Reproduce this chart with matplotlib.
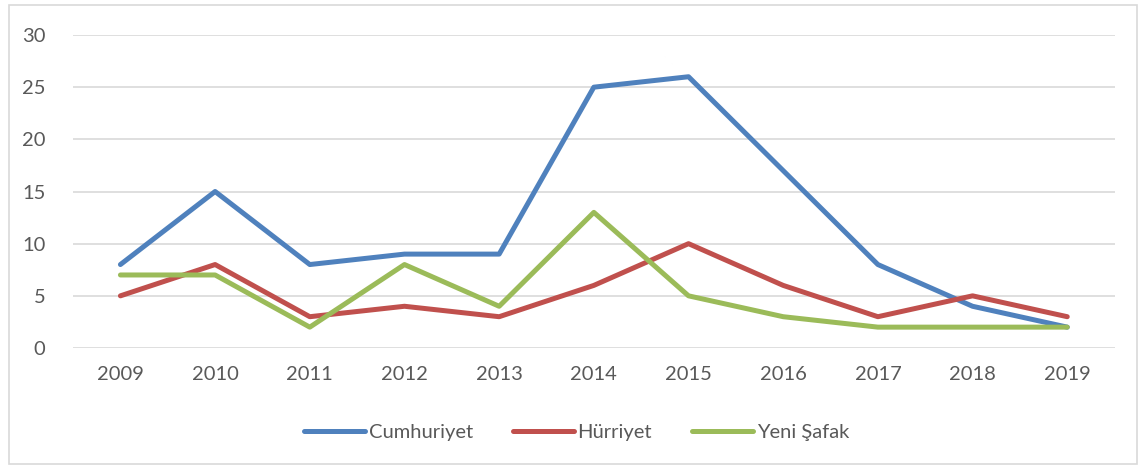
import matplotlib.pyplot as plt
from matplotlib.patches import Rectangle

years = ['2009', '2010', '2011', '2012', '2013', '2014', '2015', '2016', '2017', '2018', '2019']
cumhuriyet = [8, 15, 8, 9, 9, 25, 26, 17, 8, 4, 2]
hurriyet = [5, 8, 3, 4, 3, 6, 10, 6, 3, 5, 3]
yeni_safak = [7, 7, 2, 8, 4, 13, 5, 3, 2, 2, 2]

plt.rcParams['font.family'] = ['Lato', 'DejaVu Sans']

fig = plt.figure(figsize=(11.42, 4.68), dpi=100)
ax = fig.add_axes([0.064, 0.2564, 0.912, 0.6688])

# chart border
fig.patches.append(Rectangle((0.008, 0.008), 0.988, 0.982, transform=fig.transFigure,
                             fill=False, edgecolor='#d9d9d9', linewidth=1.2))

x = range(len(years))
lw = 3.6
ax.plot(x, cumhuriyet, color='#4F81BD', linewidth=lw, label='Cumhuriyet', solid_capstyle='round')
ax.plot(x, hurriyet, color='#C0504D', linewidth=lw, label='Hürriyet', solid_capstyle='round')
ax.plot(x, yeni_safak, color='#9BBB59', linewidth=lw, label='Yeni Şafak', solid_capstyle='round')

ax.set_xlim(-0.5, len(years) - 0.5)
ax.set_ylim(0, 30)
ax.set_yticks(range(0, 31, 5))
ax.set_xticks(list(x))
ax.set_xticklabels(years)
ax.yaxis.grid(True, color='#d9d9d9', linewidth=1.2)
ax.set_axisbelow(True)
for s in ax.spines.values():
    s.set_visible(False)
ax.tick_params(length=0, labelsize=14.5, colors='#595959', pad=13)
ax.tick_params(axis='y', pad=20)

ax.legend(loc='center', bbox_to_anchor=(0.505, 0.075), bbox_transform=fig.transFigure,
          ncol=3, frameon=False, fontsize=14.5, handlelength=3.0, handletextpad=0.2,
          columnspacing=2.0, labelcolor='#595959')

fig.savefig('out.png', dpi=100)
